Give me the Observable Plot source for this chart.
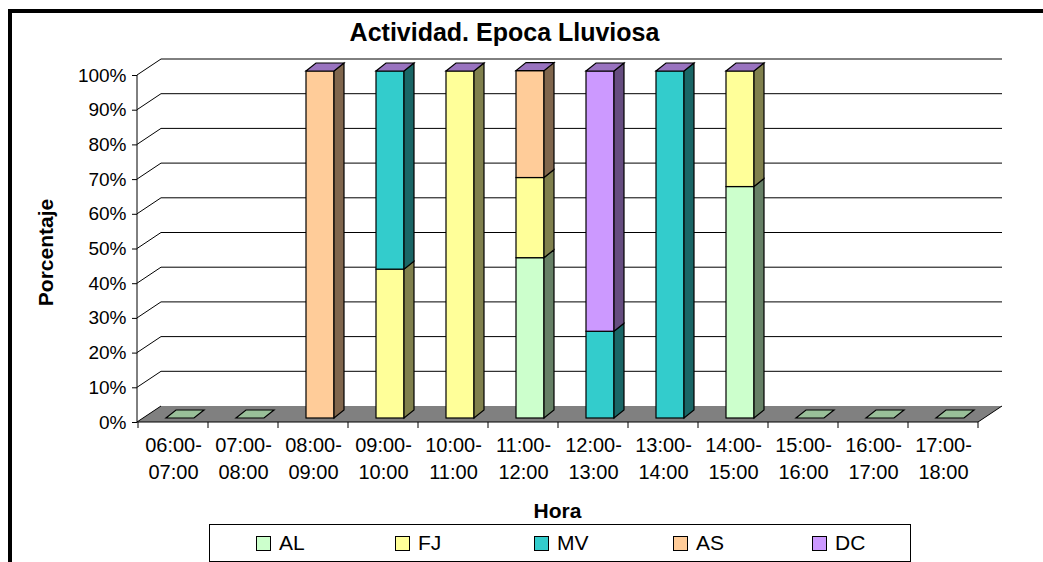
<!DOCTYPE html>
<html>
<head>
<meta charset="utf-8">
<script src="https://cdn.jsdelivr.net/npm/d3@7"></script>
<script src="https://cdn.jsdelivr.net/npm/@observablehq/plot@0.6"></script>
<style>
  html, body { margin: 0; padding: 0; background: #fff; }
  #page { position: relative; width: 1043px; height: 562px; overflow: hidden; background: #fff;
          font-family: "Liberation Sans", Arial, sans-serif; }
  #title { position: absolute; left: 0; top: 17px; width: 1009px; text-align: center;
           font-size: 25px; line-height: 30px; font-weight: bold; color: #000; }
  #chart { position: absolute; left: 0; top: 50px; }
  #legend { position: absolute; left: 209px; top: 524px; width: 702px; height: 38px;
            box-sizing: border-box; border: 1px solid #000; background: #fff; }
  .item { position: absolute; top: 0; height: 36px; }
  .sw { position: absolute; top: 11px; left: 0; width: 15px; height: 15px; box-sizing: border-box; border: 1px solid #000; }
  .lb { position: absolute; left: 23px; top: 5px; font-size: 21px; line-height: 26px; color: #000; white-space: nowrap; }
  #frame { position: absolute; left: 8px; top: 9px; width: 1100px; height: 700px; border: 4px solid #000; pointer-events: none; }
</style>
</head>
<body>
<div id="page">
  <div id="title">Actividad. Epoca Lluviosa</div>
  <div id="chart"></div>
  <div id="legend"></div>
  <div id="frame"></div>
</div>
<script>
// ---- data ----
const hours = ["06:00-07:00","07:00-08:00","08:00-09:00","09:00-10:00","10:00-11:00","11:00-12:00",
               "12:00-13:00","13:00-14:00","14:00-15:00","15:00-16:00","16:00-17:00","17:00-18:00"];
const seriesNames = ["AL","FJ","MV","AS","DC"];
const AL = [0, 0, 0,    0,    0,   46.2, 0,  0,   66.7, 0, 0, 0];
const FJ = [0, 0, 0,    42.9, 100, 23.1, 0,  0,   33.3, 0, 0, 0];
const MV = [0, 0, 0,    57.1, 0,   0,    25, 100, 0,    0, 0, 0];
const AS = [0, 0, 100,  0,    0,   30.8, 0,  0,   0,    0, 0, 0];
const DC = [0, 0, 0,    0,    0,   0,    75, 0,   0,    0, 0, 0];
const seriesColors = ["#CCFFCC","#FFFF99","#33CCCC","#FFCC99","#CC99FF"];
const yTickValues = [0,10,20,30,40,50,60,70,80,90,100];
const yTitle = "Porcentaje";
const xTitle = "Hora";

const seriesValues = [AL, FJ, MV, AS, DC];
const rows = [];
hours.forEach((h, i) => seriesNames.forEach((s, j) => rows.push({hour: h, series: s, value: seriesValues[j][i]})));

// 3D geometry (pixels)
const FDX = 7, FDY = -4;     // bar front face offset
const BX = 10, BY = -8;      // bar depth
const WX = 24, WY = -16;     // wall depth

const plot = Plot.plot({
  width: 1043, height: 480,
  marginTop: 25, marginBottom: 108, marginLeft: 137, marginRight: 65,
  style: {fontFamily: "Liberation Sans, Arial, sans-serif", fontSize: "19px", color: "#000", background: "transparent", overflow: "visible"},
  x: {domain: hours, paddingInner: 0.6, paddingOuter: 0.3, axis: null},
  y: {domain: [0, 100]},
  color: {domain: seriesNames, range: seriesColors},
  marks: [
    Plot.axisY({ticks: yTickValues, tickFormat: d => d + "%", tickSize: 5, tickPadding: 6, label: null, fontSize: 19}),
    Plot.barY(rows.filter(d => d.value > 0), {x: "hour", y: "value", fill: "series", stroke: "#000", strokeWidth: 1.2, dx: FDX, dy: FDY}),
    Plot.text(hours, {x: d => d, text: d => d.replace("-", "-\n"), frameAnchor: "bottom", lineAnchor: "top", dy: 11, lineHeight: 1.33, fontSize: 20, fill: "#000"})
  ]
});
document.getElementById("chart").appendChild(plot);

const svg = d3.select(plot);
const xs = plot.scale("x"), ys = plot.scale("y"), cs = plot.scale("color");
const X = v => xs.apply(v), Y = v => ys.apply(v);
const bw = xs.bandwidth, step = xs.step;
const x0 = Math.min(...xs.range), x1 = Math.max(...xs.range);
const y0 = Y(0), y100 = Y(100);
const shade = (c, k) => { const r = d3.rgb(c); return d3.rgb(r.r * k, r.g * k, r.b * k).formatHex(); };
const pts = a => a.map(p => p.join(",")).join(" ");

// background: floor, walls, gridlines, axis lines
const bg = svg.insert("g", "g");
bg.append("polygon").attr("points", pts([[x0, y0], [x1, y0], [x1 + WX, y0 + WY], [x0 + WX, y0 + WY]])).attr("fill", "#808080");
yTickValues.forEach(v => {
  bg.append("line").attr("x1", x0).attr("y1", Y(v)).attr("x2", x0 + WX).attr("y2", Y(v) + WY).attr("stroke", "#000").attr("stroke-width", 1);
  if (v > 0) bg.append("line").attr("x1", x0 + WX).attr("y1", Y(v) + WY).attr("x2", x1 + WX).attr("y2", Y(v) + WY).attr("stroke", "#000").attr("stroke-width", 1);
});
bg.append("line").attr("x1", x1).attr("y1", y0).attr("x2", x1 + WX).attr("y2", y0 + WY).attr("stroke", "#000");
bg.append("line").attr("x1", x0).attr("y1", y0).attr("x2", x1).attr("y2", y0).attr("stroke", "#000").attr("stroke-width", 1.2);
bg.append("line").attr("x1", x0).attr("y1", y0).attr("x2", x0).attr("y2", y100).attr("stroke", "#000").attr("stroke-width", 1);
// x ticks at category boundaries
for (let i = 0; i <= hours.length; i++) {
  const xb = i < hours.length ? X(hours[i]) - (step - bw) / 2 : X(hours[hours.length - 1]) + bw + (step - bw) / 2;
  bg.append("line").attr("x1", xb).attr("y1", y0).attr("x2", xb).attr("y2", y0 + 6).attr("stroke", "#000");
}

// foreground: bar sides and tops
const fg = svg.append("g");
hours.forEach((h, i) => {
  const left = X(h) + FDX, right = left + bw;
  let cum = 0;
  seriesNames.forEach((s, j) => {
    const v = seriesValues[j][i];
    if (v > 0) {
      const yb = Y(cum) + FDY, yt = Y(cum + v) + FDY;
      fg.append("polygon").attr("points", pts([[right, yb], [right, yt], [right + BX, yt + BY], [right + BX, yb + BY]]))
        .attr("fill", shade(cs.apply(s), 0.5)).attr("stroke", "#000").attr("stroke-width", 1.2);
    }
    cum += v;
  });
  const yt = Y(cum) + FDY;
  const topSeries = cum > 0 ? seriesNames[seriesNames.length - 1] : seriesNames[0];
  fg.append("polygon").attr("points", pts([[left, yt], [right, yt], [right + BX, yt + BY], [left + BX, yt + BY]]))
    .attr("fill", shade(cs.apply(topSeries), cum > 0 ? 0.75 : 0.75)).attr("stroke", "#000").attr("stroke-width", 1.2);
});

// axis titles
svg.append("text").attr("transform", `translate(53,${252.5 - 50}) rotate(-90)`).attr("text-anchor", "middle")
  .attr("font-size", 21).attr("font-weight", "bold").attr("fill", "#000").text(yTitle);
svg.append("text").attr("x", (x0 + x1) / 2).attr("y", 518 - 50).attr("text-anchor", "middle")
  .attr("font-size", 21).attr("font-weight", "bold").attr("fill", "#000").text(xTitle);

// legend
const legend = d3.select("#legend");
seriesNames.forEach((s, i) => {
  const it = legend.append("div").attr("class", "item").style("left", (46 + i * 139) + "px");
  it.append("div").attr("class", "sw").style("background", cs.apply(s));
  it.append("div").attr("class", "lb").text(s);
});
</script>
</body>
</html>
